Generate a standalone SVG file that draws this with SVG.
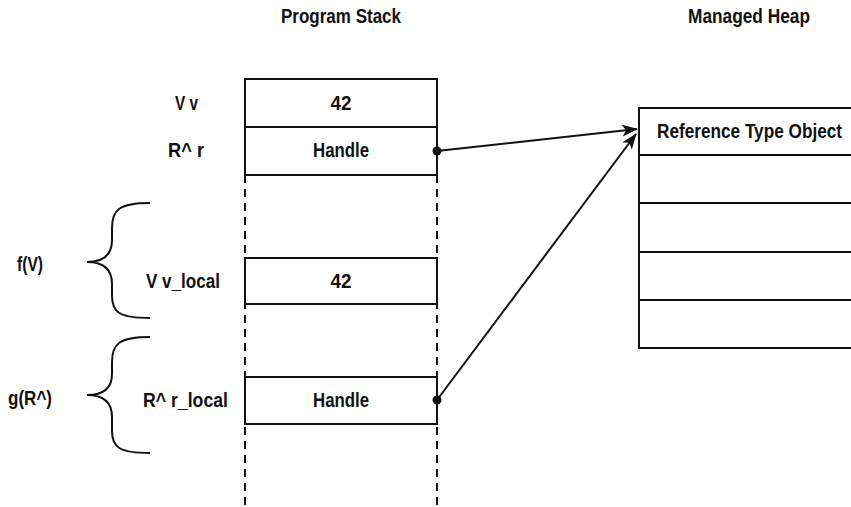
<svg xmlns="http://www.w3.org/2000/svg" width="851" height="507" viewBox="0 0 851 507">
<style>
text{font-family:"Liberation Sans",Arial,sans-serif;font-size:19.5px;font-weight:bold;fill:#111}
.c{text-anchor:middle}
.box{fill:#fff;stroke:#111;stroke-width:2}
.ln{stroke:#111;stroke-width:2;fill:none}
.dash{stroke:#111;stroke-width:2;stroke-dasharray:8 6;fill:none}
.br{stroke:#111;stroke-width:2;fill:none}
</style>
<defs>
<marker id="ah" markerWidth="16" markerHeight="12" refX="15" refY="6" orient="auto" markerUnits="userSpaceOnUse">
<path d="M0,0 L16,6 L0,12 L4,6 Z" fill="#111"/>
</marker>
</defs>
<rect width="851" height="507" fill="#fff"/>
<text class="c" x="341" y="23" textLength="120" lengthAdjust="spacingAndGlyphs">Program Stack</text>
<text class="c" x="749" y="23" textLength="122" lengthAdjust="spacingAndGlyphs">Managed Heap</text>
<g id="lifelines">
<line class="dash" x1="245" y1="175" x2="245" y2="507"/>
<line class="dash" x1="437" y1="175" x2="437" y2="507"/>
</g>
<g id="stack-top">
<rect class="box" x="245" y="79" width="192" height="96"/>
<line class="ln" x1="245" y1="127" x2="437" y2="127"/>
<text class="c" x="341" y="110" textLength="21" lengthAdjust="spacingAndGlyphs">42</text>
<text class="c" x="341" y="157" textLength="56" lengthAdjust="spacingAndGlyphs">Handle</text>
<text class="c" x="186.5" y="110" textLength="23" lengthAdjust="spacingAndGlyphs">V v</text>
<text class="c" x="186" y="157" textLength="36" lengthAdjust="spacingAndGlyphs">R^ r</text>
</g>
<g id="v-local">
<rect class="box" x="245" y="258" width="192" height="46"/>
<text class="c" x="341" y="288" textLength="21" lengthAdjust="spacingAndGlyphs">42</text>
<text class="c" x="183" y="288" textLength="74" lengthAdjust="spacingAndGlyphs">V v_local</text>
</g>
<g id="r-local">
<rect class="box" x="245" y="377" width="192" height="47"/>
<text class="c" x="341" y="407" textLength="56" lengthAdjust="spacingAndGlyphs">Handle</text>
<text class="c" x="185.5" y="407" textLength="85" lengthAdjust="spacingAndGlyphs">R^ r_local</text>
</g>
<g id="heap">
<rect class="box" x="639" y="108" width="220" height="240"/>
<line class="ln" x1="639" y1="155" x2="851" y2="155"/>
<line class="ln" x1="639" y1="203" x2="851" y2="203"/>
<line class="ln" x1="639" y1="252" x2="851" y2="252"/>
<line class="ln" x1="639" y1="300" x2="851" y2="300"/>
<text class="c" x="749.5" y="138" textLength="185" lengthAdjust="spacingAndGlyphs">Reference Type Object</text>
</g>
<g id="fV">
<path class="br" d="M150,203 C119,203 112,210 112,228 L112,240 C112,255 103,262 87,262 C103,262 112,269 112,284 L112,296 C112,312 119,318 150,318"/>
<text x="17" y="271" textLength="26" lengthAdjust="spacingAndGlyphs">f(V)</text>
</g>
<g id="gR">
<path class="br" d="M150,337 C119,337 112,344 112,362 L112,374 C112,389 103,395 87,395 C103,395 112,402 112,417 L112,431 C112,447 119,453 150,453"/>
<text x="8" y="405" textLength="44" lengthAdjust="spacingAndGlyphs">g(R^)</text>
</g>
<g id="connectors">
<circle cx="437" cy="151" r="4.5" fill="#111"/>
<circle cx="437" cy="400" r="4.5" fill="#111"/>
<line class="ln" x1="437" y1="151" x2="637" y2="129" marker-end="url(#ah)"/>
<line class="ln" x1="437" y1="400" x2="636" y2="134" marker-end="url(#ah)"/>
</g>
</svg>
